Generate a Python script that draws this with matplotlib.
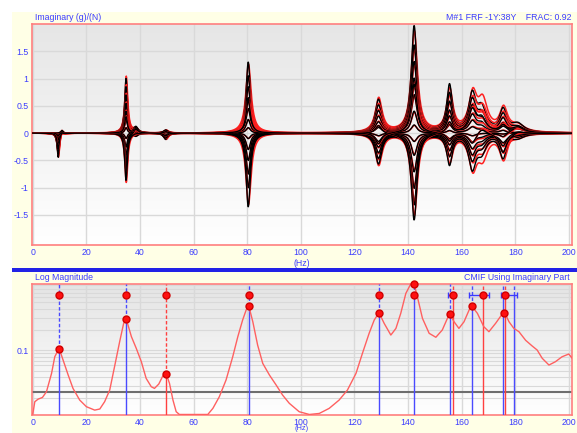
import numpy as np
import matplotlib
matplotlib.use("Agg")
import matplotlib.pyplot as plt
from matplotlib.patches import Rectangle
from matplotlib.colors import LinearSegmentedColormap

plt.rcParams['font.family'] = ['Liberation Sans', 'DejaVu Sans']

# ----------------------------------------------------------
# Modal data (Imaginary part of FRFs)
# ----------------------------------------------------------
mode_freq = [9.5, 10.9, 34.8, 38.5, 49.6, 80.4, 129.0, 142.3, 155.5, 164.0, 167.5, 175.5, 181.0]
mode_zeta = [0.05, 0.045, 0.017, 0.025, 0.02, 0.012, 0.011, 0.009, 0.008, 0.01, 0.012, 0.009, 0.015]
# fitted (red) curves use slightly different poles and gains
fit_freq = [9.6, 10.9, 34.9, 38.5, 49.8, 80.5, 129.1, 142.4, 155.6, 164.2, 167.9, 175.7, 181.0]
fit_zeta = [0.055, 0.045, 0.019, 0.025, 0.021, 0.015, 0.012, 0.01, 0.009, 0.011, 0.013, 0.01, 0.017]
fit_gain = [1.0, 1.0, 1.04, 0.8, 1.0, 0.97, 1.05, 0.95, 0.9, 1.0, 1.35, 1.05, 0.8]

# peak amplitude of every mode in each measured curve
amp_m1 = [-0.45, -0.35, -0.28, -0.2, -0.15, -0.1, -0.06, -0.03, 0.0, -0.4, -0.12, -0.22, -0.05, -0.3]
amp_m2 = [0.07, 0.05, 0.03, 0.02, 0.04, 0.01, 0.0, 0.03, 0.05, 0.06, 0.02, 0.04, 0.01, 0.03]
amp_m3 = [1.0, 0.85, 0.7, 0.55, 0.4, 0.25, 0.1, -0.1, -0.25, -0.4, -0.55, -0.7, -0.87, 0.3]
amp_m4 = [0.1, 0.08, 0.06, -0.04, 0.05, 0.03, -0.02, 0.07, 0.02, -0.05, 0.04, 0.09, 0.01, 0.06]
amp_m5 = [-0.12, 0.05, -0.08, 0.04, -0.06, 0.03, -0.1, 0.02, -0.04, 0.06, -0.02, -0.09, 0.03, -0.05]
amp_m6 = [1.3, 1.05, 0.85, 0.65, 0.45, 0.25, 0.1, -0.1, -0.3, -0.5, -0.75, -1.0, -1.35, 0.6]
amp_m7 = [0.6, 0.5, 0.4, 0.3, 0.2, 0.1, -0.05, -0.15, -0.25, -0.35, -0.45, -0.55, 0.15, -0.2]
amp_m8 = [1.95, 1.6, 1.3, 1.0, 0.7, 0.4, 0.15, -0.15, -0.4, -0.7, -1.0, -1.3, -1.6, 0.9]
amp_m9 = [0.85, 0.7, 0.55, 0.4, 0.3, 0.15, 0.05, -0.1, -0.2, -0.3, -0.4, -0.55, 0.2, -0.15]
amp_m10 = [0.65, 0.55, 0.45, 0.3, 0.2, 0.1, -0.05, -0.15, -0.25, -0.35, -0.45, -0.6, 0.4, -0.2]
amp_m11 = [0.4, 0.3, 0.2, 0.15, 0.1, 0.05, 0.0, -0.05, -0.1, -0.15, -0.2, -0.3, 0.25, 0.1]
amp_m12 = [0.4, 0.32, 0.25, 0.18, 0.1, 0.05, -0.02, -0.08, -0.15, -0.22, -0.3, -0.45, 0.12, -0.35]
amp_m13 = [0.15, 0.1, 0.05, -0.05, 0.08, -0.03, 0.02, 0.12, -0.06, 0.04, -0.08, 0.06, 0.1, -0.02]
amp_table = [amp_m1, amp_m2, amp_m3, amp_m4, amp_m5, amp_m6, amp_m7,
             amp_m8, amp_m9, amp_m10, amp_m11, amp_m12, amp_m13]

# ----------------------------------------------------------
# CMIF curve
# ----------------------------------------------------------
cmif_f = [0, 0.75, 2.0, 3.6, 5.1, 7.0, 8.2, 9.8, 11.3, 13.2, 15.0, 17.5, 20.0, 23.1, 25.0,
          26.8, 28.7, 30.5, 32.4, 33.9, 34.9, 36.8, 38.6, 40.5, 42.3, 44.2, 45.4, 47.0, 48.5,
          49.8, 51.0, 52.3, 53.5, 54.7, 65.3, 67.2, 69.6, 72.1, 74.6, 76.5, 78.3, 79.6, 80.6,
          82.1, 83.9, 85.8, 88.3, 90.8, 93.2, 95.7, 99.4, 103.2, 106.9, 110.6, 114.3, 117.4,
          120.6, 123.0, 125.5, 127.4, 129.2, 131.1, 133.6, 135.5, 137.3, 139.2, 141.0, 142.3,
          143.5, 145.4, 147.9, 150.4, 152.8, 154.7, 155.6, 157.2, 159.0, 160.9, 162.8, 163.8,
          165.9, 168.3, 170.2, 172.7, 174.9, 176.2, 177.7, 179.5, 181.4, 183.9, 186.3, 188.2,
          190.1, 192.6, 195.0, 197.5, 200.0, 201.3]
cmif_v = [0.0115, 0.0174, 0.0190, 0.0201, 0.0244, 0.0454, 0.0797, 0.106, 0.0713, 0.0429,
          0.0273, 0.0184, 0.0147, 0.0131, 0.0136, 0.0174, 0.0258, 0.0569, 0.132, 0.247, 0.282,
          0.157, 0.106, 0.0673, 0.0383, 0.0289, 0.0273, 0.0316, 0.0415, 0.0443, 0.0324, 0.0184,
          0.0124, 0.0113, 0.0113, 0.0139, 0.0206, 0.0362, 0.0797, 0.157, 0.276, 0.387, 0.443,
          0.26, 0.118, 0.0637, 0.0429, 0.0306, 0.0218, 0.0165, 0.0124, 0.0113, 0.0117, 0.0139,
          0.0184, 0.0258, 0.0454, 0.0894, 0.176, 0.276, 0.354, 0.247, 0.166, 0.208, 0.346, 0.68,
          0.93, 0.93, 0.607, 0.292, 0.176, 0.154, 0.197, 0.292, 0.338, 0.26, 0.208, 0.26, 0.387,
          0.443, 0.346, 0.22, 0.186, 0.247, 0.327, 0.346, 0.26, 0.208, 0.186, 0.139, 0.115, 0.1,
          0.0755, 0.0602, 0.0673, 0.0797, 0.0873, 0.0755]
threshold = 0.024

# mode indicator lines
line_freqs = [9.8, 34.9, 49.8, 80.6, 129.2, 142.2, 155.6, 156.8, 164.0, 168.1, 175.6, 176.2, 179.6]
line_kinds = ['b', 'b', 'r', 'b', 'b', 'b', 'b', 'r', 'b', 'r', 'b', 'r', 'b']
peak_f = [9.8, 34.9, 49.8, 80.6, 129.2, 142.2, 155.6, 164.0, 175.8]
peak_v = [0.103, 0.282, 0.0443, 0.443, 0.354, 0.93, 0.338, 0.443, 0.346]
row_f = [9.8, 34.9, 49.8, 80.6, 129.2, 142.2, 156.8, 168.1, 176.2]
row_level = 0.644
band_center = [156.15, 166.5, 177.65]
band_half = [1.15, 3.7, 3.05]

# ----------------------------------------------------------
# Styling
# ----------------------------------------------------------
BLUE_TXT = '#3c3cff'
FRAME = '#ff7f7f'
GRID = '#d9d9d9'
FS = 6.3
W, H = 577, 433
XMAX = 201.2


def imag_mode(f, fn, zeta, amp):
    w2 = 2 * zeta * fn * f
    return amp * (2 * zeta * fn * fn) * w2 / ((fn ** 2 - f ** 2) ** 2 + w2 ** 2)


def box(left, top, right, bottom):
    return [left / W, 1 - bottom / H, (right - left) / W, (bottom - top) / H]


def gradient_bg(fig, rect, top_color):
    bg = fig.add_axes(rect, zorder=-1)
    cmap = LinearSegmentedColormap.from_list('bg', [top_color, '#ffffff'])
    bg.imshow(np.linspace(0, 1, 256).reshape(-1, 1), cmap=cmap, aspect='auto',
              extent=[0, 1, 0, 1])
    bg.axis('off')


def style_axes(ax, hz_pad, hz_size):
    ax.set_facecolor('none')
    for sp in ax.spines.values():
        sp.set_color(FRAME)
        sp.set_linewidth(1.2)
    ax.tick_params(which='both', length=0, labelsize=FS, labelcolor=BLUE_TXT, pad=2.5)
    ax.set_xlim(-0.3, XMAX)
    ax.set_xticks(np.arange(0, 201, 20))
    ax.set_xlabel('(Hz)', fontsize=hz_size, color=BLUE_TXT, labelpad=hz_pad)


fig = plt.figure(figsize=(W / 100, H / 100), dpi=100)
fig.add_artist(Rectangle((12 / W, 0), 1, 1 - 12 / H, transform=fig.transFigure,
                         facecolor='#ffffe6', edgecolor='none', zorder=-5))
fig.add_artist(Rectangle((12 / W, 1 - 271.5 / H), 1, 3.5 / H, transform=fig.transFigure,
                         facecolor='#2222e6', edgecolor='none', zorder=5))

# ---------------- top panel ----------------
top_rect = box(32, 24, 572, 245)
gradient_bg(fig, top_rect, '#e6e6e6')
ax1 = fig.add_axes(top_rect)
style_axes(ax1, 1.2, FS)

freq = np.arange(0, XMAX + 0.5, 0.125)
n_curves = len(amp_m1)
for c in range(n_curves):
    y_meas = np.zeros_like(freq)
    y_fit = np.zeros_like(freq)
    for m in range(len(mode_freq)):
        a = amp_table[m][c]
        y_meas += imag_mode(freq, mode_freq[m], mode_zeta[m], a)
        y_fit += imag_mode(freq, fit_freq[m], fit_zeta[m], a * fit_gain[m])
    # fit (red) under its own measurement (black), pair by pair
    ax1.plot(freq, y_fit, color='#ff2020', lw=1.1, zorder=3)
    ax1.plot(freq, y_meas, color='black', lw=1.0, zorder=3)

ax1.set_ylim(-2.05, 2.0)
yt = [-1.5, -1, -0.5, 0, 0.5, 1, 1.5]
ax1.set_yticks(yt)
ax1.set_yticklabels(['-1.5', '-1', '-0.5', '0', '0.5', '1', '1.5'])
ax1.grid(True, color=GRID, lw=1.0, zorder=0)
ax1.set_axisbelow(True)

fig.text(35 / W, 1 - 17 / H, 'Imaginary (g)/(N)', fontsize=FS, color=BLUE_TXT,
         ha='left', va='center')
fig.text(571 / W, 1 - 17 / H, 'M#1 FRF -1Y:38Y    FRAC: 0.92', fontsize=FS,
         color=BLUE_TXT, ha='right', va='center')

# ---------------- bottom panel ----------------
bot_rect = box(32, 284, 572, 415)
gradient_bg(fig, bot_rect, '#e4e4e4')
ax2 = fig.add_axes(bot_rect)
style_axes(ax2, -1.8, 5.4)
ax2.set_yscale('log')
ax2.set_ylim(0.0111, 0.934)
ax2.set_yticks([0.1])
ax2.set_yticklabels(['0.1'])
minor = [k * 0.01 for k in range(2, 10)] + [k * 0.1 for k in range(2, 10)]
ax2.set_yticks(minor, minor=True)
ax2.set_yticklabels([], minor=True)
ax2.grid(True, which='both', axis='y', color=GRID, lw=0.8, zorder=0)
ax2.grid(True, which='major', axis='x', color=GRID, lw=1.0, zorder=0)
ax2.set_axisbelow(True)

ax2.axhline(threshold, color='#6e6e6e', lw=1.5, zorder=2)

peak_lookup = dict(zip(peak_f, peak_v))
for f, kind in zip(line_freqs, line_kinds):
    col = '#4a4aff' if kind == 'b' else '#ff4040'
    split = peak_lookup.get(f, row_level)
    if f == 142.2:
        split = row_level
    ax2.vlines(f, split, 0.934, colors=col, lw=1.0, linestyles=(0, (2.5, 1.5)), zorder=3)
    ax2.vlines(f, 0.0111, split, colors=col, lw=1.0, zorder=3)

ax2.plot(cmif_f, cmif_v, color='#ff6060', lw=1.0, zorder=4)

ax2.errorbar(band_center, [row_level] * len(band_center), xerr=band_half, fmt='none',
             ecolor='#3a3aff', elinewidth=1.0, capsize=2, capthick=1.0, zorder=5)
ax2.plot(row_f, [row_level] * len(row_f), 'o', ms=5, color='#ff1010', mec='#d00000',
         zorder=6, clip_on=False)
ax2.plot(peak_f, peak_v, 'o', ms=5, color='#ff1010', mec='#d00000', zorder=6,
         clip_on=False)

fig.text(35 / W, 1 - 277 / H, 'Log Magnitude', fontsize=FS, color=BLUE_TXT,
         ha='left', va='center')
fig.text(570 / W, 1 - 277 / H, 'CMIF Using Imaginary Part', fontsize=FS,
         color=BLUE_TXT, ha='right', va='center')

fig.savefig('out.png', dpi=100)
